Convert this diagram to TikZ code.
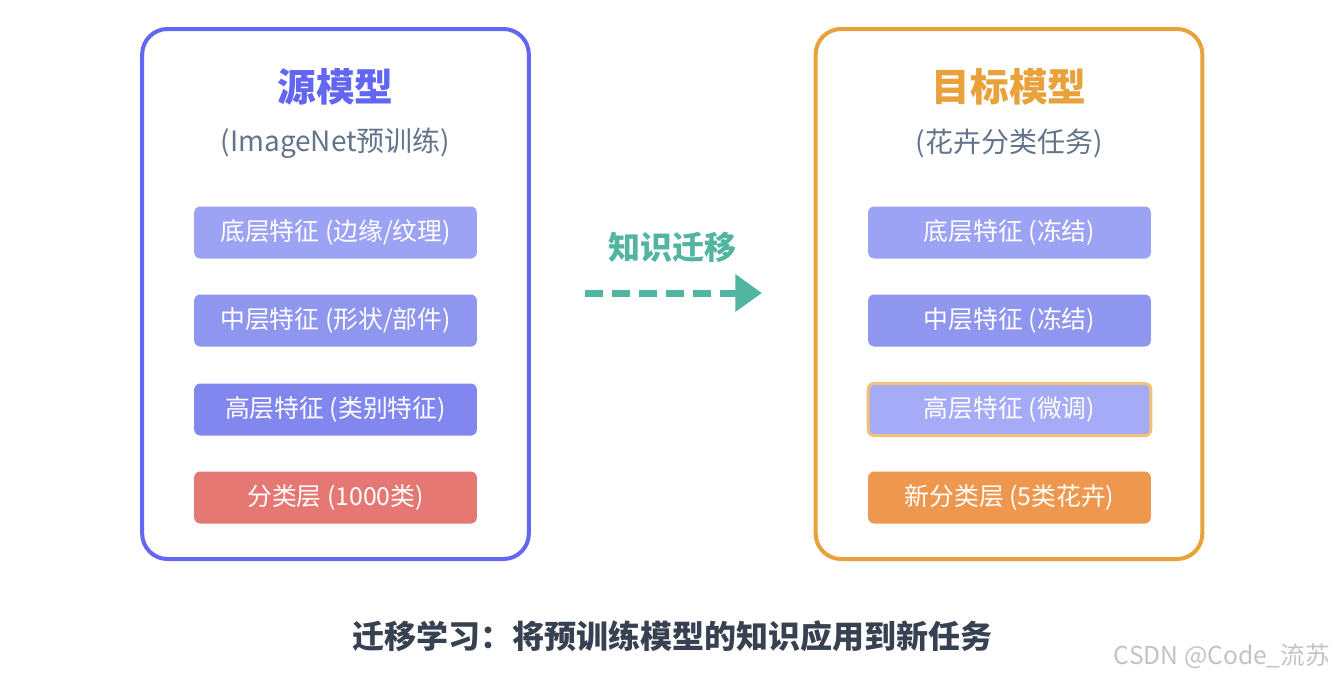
\documentclass[tikz,border=0pt]{standalone}
\usepackage{fontspec}
\setmainfont{Noto Sans CJK SC}
\usepackage{xcolor}
\usetikzlibrary{arrows.meta, positioning}
\definecolor{srcFrame}{RGB}{99, 102, 241}
\definecolor{tgtFrame}{RGB}{233, 161, 59}
\definecolor{subGray}{RGB}{100, 116, 139}
\definecolor{layerA}{RGB}{156, 163, 245}
\definecolor{layerB}{RGB}{143, 150, 240}
\definecolor{layerC}{RGB}{129, 135, 238}
\definecolor{layerTune}{RGB}{165, 171, 246}
\definecolor{tuneEdge}{RGB}{242, 192, 120}
\definecolor{clsOld}{RGB}{229, 120, 115}
\definecolor{clsNew}{RGB}{237, 152, 78}
\definecolor{transfer}{RGB}{82, 181, 160}
\definecolor{captionC}{RGB}{55, 65, 81}
\definecolor{markC}{RGB}{195, 195, 195}

\begin{document}
\begin{tikzpicture}[x=0.75pt, y=-0.75pt,
    frame/.style={rectangle, rounded corners=19pt, line width=3pt, minimum width=290pt, minimum height=397.5pt, fill=white},
    layer/.style={rectangle, rounded corners=4.5pt, minimum width=212pt, minimum height=39pt, text=white, font=\fontsize{18.6}{18.6}\selectfont},
    title/.style={font=\fontsize{29}{29}\selectfont\bfseries},
    subtitle/.style={font=\fontsize{21}{21}\selectfont, text=subGray},
    flow/.style={draw=transfer, line width=5.25pt, dash pattern=on 13.5pt off 6.75pt, -{Triangle[length=20pt, width=27pt]}}]

    \useasboundingbox (0,0) rectangle (1334,678);

    % source model
    \node[frame, draw=srcFrame] (src) at (335.5,294) {};
    \node[title, text=srcFrame] (srcTitle) at (335.5,87) {源模型};
    \node[subtitle] (srcSub) at (335.5,143) {(ImageNet预训练)};
    \node[layer, fill=layerA] (s1) at (335.5,232.5) {底层特征 (边缘/纹理)};
    \node[layer, fill=layerB] (s2) at (335.5,320.5) {中层特征 (形状/部件)};
    \node[layer, fill=layerC] (s3) at (335.5,409.5) {高层特征 (类别特征)};
    \node[layer, fill=clsOld] (s4) at (335.5,497.5) {分类层 (1000类)};

    % target model
    \node[frame, draw=tgtFrame] (tgt) at (1009,294) {};
    \node[title, text=tgtFrame] (tgtTitle) at (1009,87) {目标模型};
    \node[subtitle] (tgtSub) at (1009,143) {(花卉分类任务)};
    \node[layer, fill=layerA] (t1) at (1009.5,232.5) {底层特征 (冻结)};
    \node[layer, fill=layerB] (t2) at (1009.5,320.5) {中层特征 (冻结)};
    \node[layer, fill=layerTune, draw=tuneEdge, line width=2.25pt] (t3) at (1009.5,409.5) {高层特征 (微调)};
    \node[layer, fill=clsNew] (t4) at (1009.5,497.5) {新分类层 (5类花卉)};

    % transfer arrow
    \coordinate (flowStart) at (585,293);
    \coordinate (flowEnd) at (762,293);
    \draw[flow] (flowStart) -- (flowEnd);
    \node[font=\fontsize{24}{24}\selectfont\bfseries, text=transfer] (flowLabel) at (672,247) {知识迁移};

    \node[font=\fontsize{24}{24}\selectfont\bfseries, text=captionC] (caption) at (672,636) {迁移学习：将预训练模型的知识应用到新任务};
    \node[font=\fontsize{18.5}{18.5}\selectfont, text=markC] (mark) at (1222,656) {CSDN @Code\_流苏};

\end{tikzpicture}
\end{document}
